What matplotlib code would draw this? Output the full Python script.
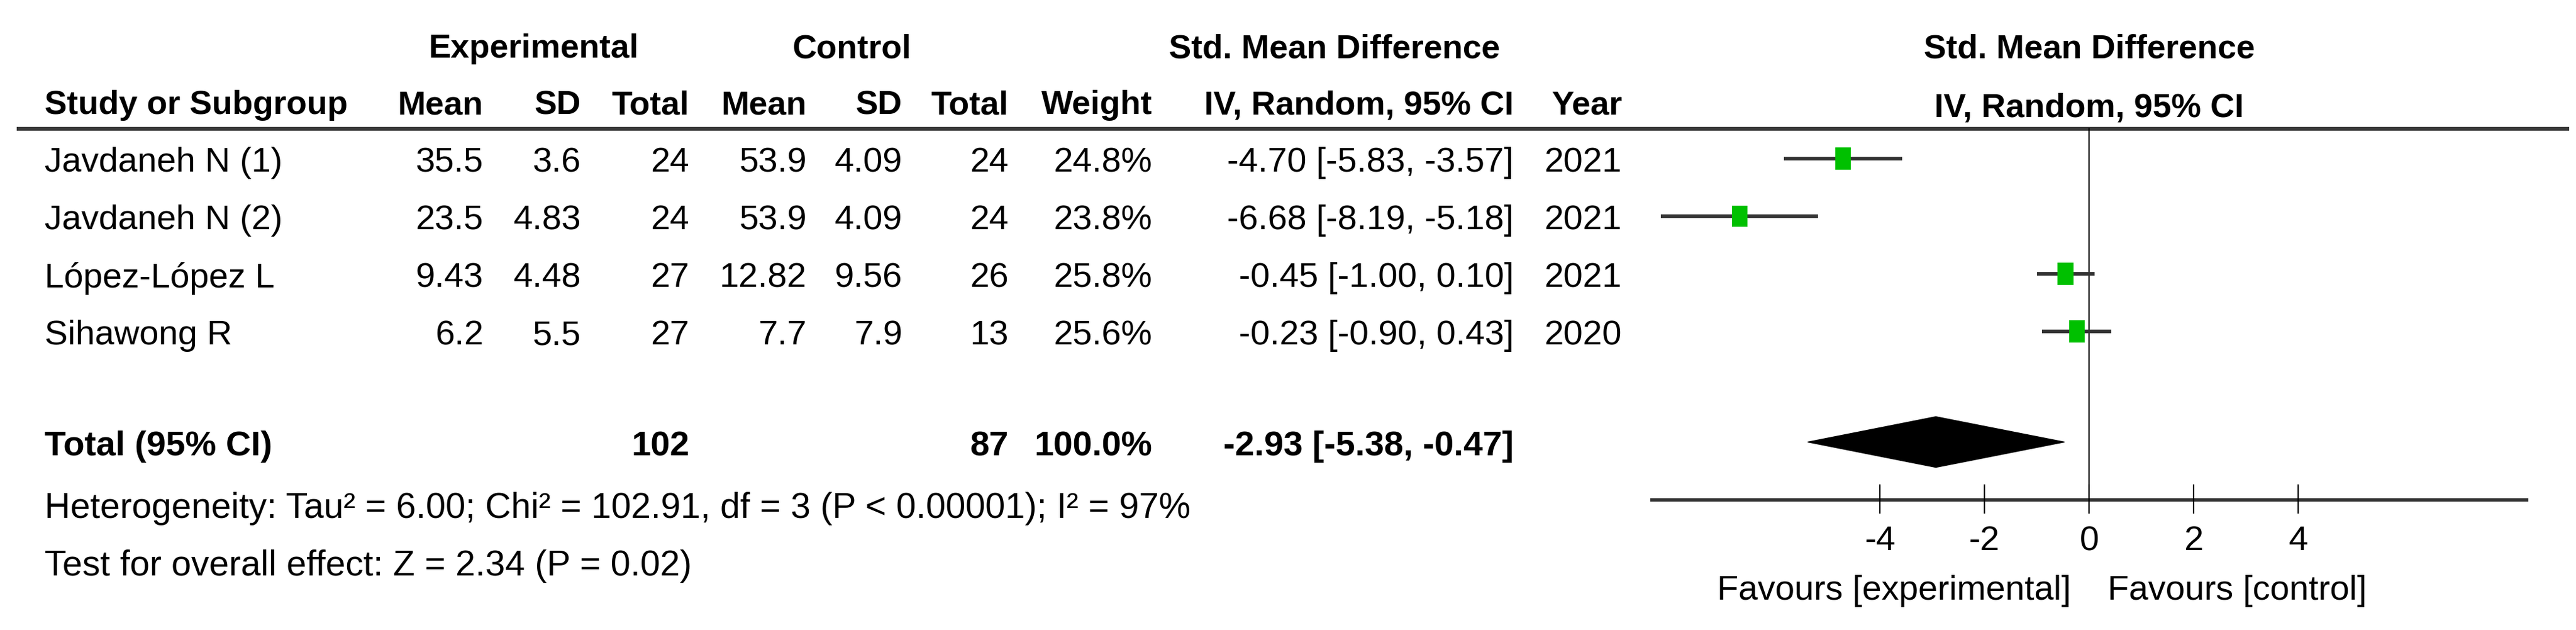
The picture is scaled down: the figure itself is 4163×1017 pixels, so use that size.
import matplotlib
matplotlib.use("Agg")
import matplotlib.pyplot as plt
from matplotlib import font_manager
from matplotlib.patches import Rectangle, Polygon

# Datos del forest plot
studies = ["Javdaneh N (1)", "Javdaneh N (2)", "López-López L", "Sihawong R"]
exp_mean = [35.5, 23.5, 9.43, 6.2]
exp_sd = [3.6, 4.83, 4.48, 5.5]
exp_n = [24, 24, 27, 27]
ctl_mean = [53.9, 53.9, 12.82, 7.7]
ctl_sd = [4.09, 4.09, 9.56, 7.9]
ctl_n = [24, 24, 26, 13]
weight = [24.8, 23.8, 25.8, 25.6]
smd = [-4.70, -6.68, -0.45, -0.23]
ci_lo = [-5.83, -8.19, -1.00, -0.90]
ci_hi = [-3.57, -5.18, 0.10, 0.43]
years = [2021, 2021, 2021, 2020]

total_exp = 102
total_ctl = 87
total_weight = 100.0
total_smd = -2.93
total_lo = -5.38
total_hi = -0.47

het_text = "Heterogeneity: Tau² = 6.00; Chi² = 102.91, df = 3 (P < 0.00001); I² = 97%"
effect_text = "Test for overall effect: Z = 2.34 (P = 0.02)"
xticks = [-4, -2, 0, 2, 4]

# Fuente: estrecha si existe
avail = {f.name for f in font_manager.fontManager.ttflist}
if "Liberation Sans Narrow" in avail:
    fam = "Liberation Sans Narrow"
    k = 1.2
else:
    fam = "Liberation Sans"
    k = 1.0
plt.rcParams["font.family"] = [fam, "DejaVu Sans"]
fs_hdr = 39 * k
fs = 40.5 * k
fs_foot = 41.5 * k

W, H = 4163, 1017
fig = plt.figure(figsize=(W / 100, H / 100), dpi=100)

# filas: 93 px de separacion, fila 0 en y=256 px
ytop = -256 / 93
ybot = (H - 256) / 93

ax = fig.add_axes([0, 0, 1, 1])
ax.set_xlim(0, W)
ax.set_ylim(ybot, ytop)
ax.axis("off")

dy = 0.08  # desplazamiento del texto respecto a la marca

# Cabeceras
hdr = dict(fontsize=fs_hdr, fontweight="bold", va="center")
ax.text(862, -1.98 + dy, "Experimental", ha="center", **hdr)
ax.text(1377, -1.98 + dy, "Control", ha="center", **hdr)
ax.text(2157, -1.98 + dy, "Std. Mean Difference", ha="center", **hdr)

cols = [781, 939, 1114, 1304, 1458, 1630, 1862, 2446, 2621]
names = ["Mean", "SD", "Total", "Mean", "SD", "Total", "Weight",
         "IV, Random, 95% CI", "Year"]
ax.text(72, -1.0 + dy, "Study or Subgroup", ha="left", **hdr)
for x, n in zip(cols, names):
    ax.text(x, -1.0 + dy, n, ha="right", **hdr)

ax.plot([27, 4152], [-0.52, -0.52], color="#3a3a3a", lw=4.5,
        solid_capstyle="butt")

# Filas de estudios
txt = dict(fontsize=fs, va="center")
for i in range(len(studies)):
    y = i + dy
    ax.text(72, y, studies[i], ha="left", **txt)
    vals = [str(exp_mean[i]), str(exp_sd[i]), str(exp_n[i]),
            str(ctl_mean[i]), str(ctl_sd[i]), str(ctl_n[i]),
            "%.1f%%" % weight[i],
            "%.2f [%.2f, %.2f]" % (smd[i], ci_lo[i], ci_hi[i]),
            str(years[i])]
    for x, v in zip(cols, vals):
        ax.text(x, y, v, ha="right", **txt)

# Fila total
yt = 4.92
bold = dict(fontsize=fs, fontweight="bold", va="center")
ax.text(72, yt + dy, "Total (95% CI)", ha="left", **bold)
ax.text(cols[2], yt + dy, str(total_exp), ha="right", **bold)
ax.text(cols[5], yt + dy, str(total_ctl), ha="right", **bold)
ax.text(cols[6], yt + dy, "%.1f%%" % total_weight, ha="right", **bold)
ax.text(cols[7], yt + dy, "%.2f [%.2f, %.2f]" % (total_smd, total_lo, total_hi),
        ha="right", **bold)

ax.text(72, 6.0 + dy, het_text, ha="left", fontsize=fs_foot, va="center")
ax.text(72, 7.0 + dy, effect_text, ha="left", fontsize=fs_foot, va="center")

# Forest plot
fx = fig.add_axes([2667 / W, 0, (4086 - 2667) / W, 1])
fx.set_xlim(-8.39, 8.40)
fx.set_ylim(ybot, ytop)
fx.axis("off")

green = "#00c000"
for i in range(len(studies)):
    fx.plot([ci_lo[i], ci_hi[i]], [i, i], color="#333333", lw=4.2,
            solid_capstyle="butt", zorder=2)
    w = 0.3 * (weight[i] / 25) ** 0.5
    h = 0.38 * (weight[i] / 25) ** 0.5
    fx.add_patch(Rectangle((smd[i] - w / 2, i - h / 2), w, h,
                           facecolor=green, edgecolor="none", zorder=3))

fx.add_patch(Polygon([[total_lo, yt], [total_smd, yt - 0.44],
                      [total_hi, yt], [total_smd, yt + 0.44]],
                     closed=True, facecolor="black", edgecolor="black",
                     lw=1, zorder=3))

# linea del cero y eje
y_axis = 5.92
fx.plot([0, 0], [-0.52, 6.15], color="black", lw=1.6, zorder=1)
fx.plot(fx.get_xlim(), [y_axis, y_axis], color="#333333", lw=4,
        solid_capstyle="butt")
for t in xticks:
    fx.plot([t, t], [5.67, 6.15], color="black", lw=1.6)
    fx.text(t, 6.57 + dy, "%d" % t, ha="center", va="center", fontsize=fs)

fx.text(-0.35, 7.43 + dy, "Favours [experimental]", ha="right", va="center",
        fontsize=fs)
fx.text(0.35, 7.43 + dy, "Favours [control]", ha="left", va="center",
        fontsize=fs)

fx.text(0, -1.98 + dy, "Std. Mean Difference", ha="center", **hdr)
fx.text(0, -0.96 + dy, "IV, Random, 95% CI", ha="center", **hdr)

plt.savefig("out.png", dpi=100)
